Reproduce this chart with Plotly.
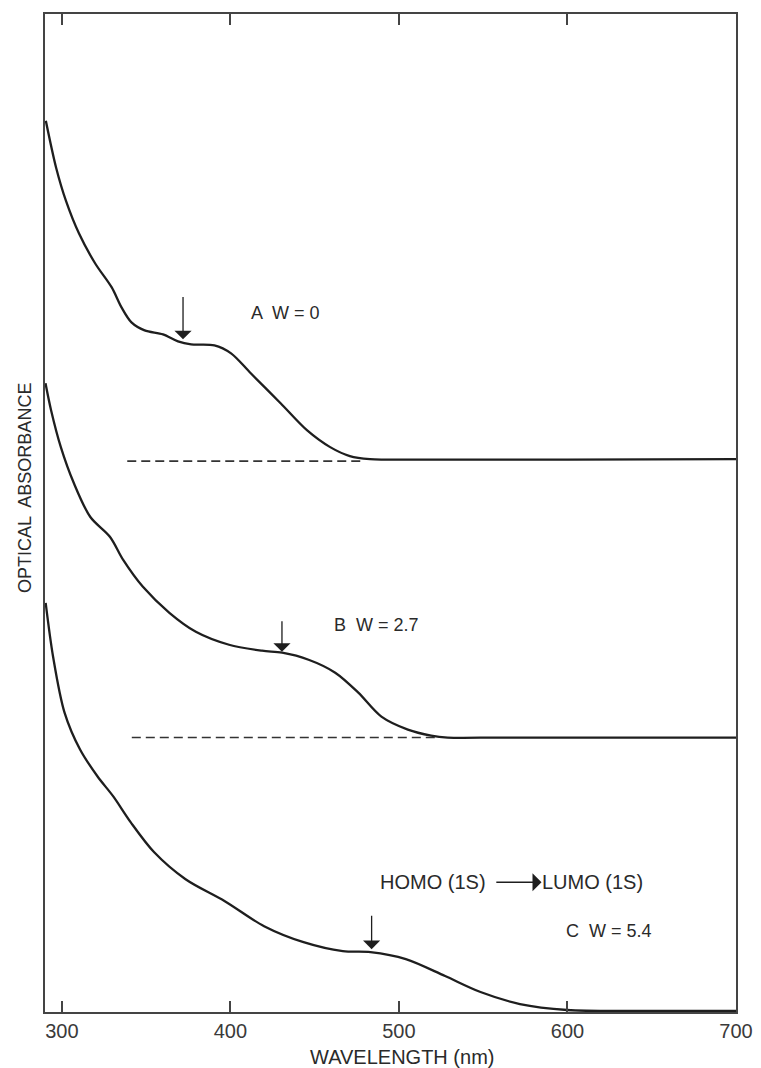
import plotly.graph_objects as go

# ---- data (wavelength in nm, absorbance in arbitrary offset units) ----
wl_A = [290.5, 296.6, 302.4, 310.2, 319.8, 329.6, 335.4, 341.3, 349.1, 360.0, 368.9, 376.7,
        390.5, 400.4, 412.1, 429.8, 445.4, 459.2, 470.9, 482.8, 520.0, 600.0, 700.0]
abs_A = [8.93, 8.46, 8.13, 7.80, 7.50, 7.26, 7.06, 6.91, 6.83, 6.79, 6.72, 6.69,
         6.68, 6.60, 6.40, 6.10, 5.83, 5.66, 5.57, 5.54, 5.535, 5.535, 5.54]

wl_B = [290.3, 293.6, 299.4, 307.1, 316.9, 328.6, 336.4, 348.1, 363.8, 379.5, 399.2, 418.8,
        430.7, 446.4, 462.2, 475.9, 489.6, 505.3, 519.1, 528.9, 560.0, 620.0, 700.0]
abs_B = [6.30, 6.03, 5.66, 5.30, 4.96, 4.76, 4.53, 4.26, 4.00, 3.81, 3.68, 3.62,
         3.60, 3.53, 3.40, 3.20, 2.96, 2.83, 2.77, 2.75, 2.75, 2.75, 2.75]

wl_C = [290.4, 294.8, 301.6, 310.8, 321.2, 330.5, 340.9, 354.8, 373.4, 396.7, 420.0, 443.4,
        466.7, 483.1, 504.1, 527.4, 548.4, 571.8, 599.8, 640.0, 700.0]
abs_C = [4.10, 3.56, 3.00, 2.63, 2.36, 2.16, 1.90, 1.60, 1.33, 1.11, 0.86, 0.70,
         0.61, 0.60, 0.53, 0.36, 0.20, 0.08, 0.02, 0.01, 0.01]

# dashed baselines (start, end wavelength, level)
base_wl_A = [338.8, 478.6]
base_lvl_A = 5.52
base_wl_B = [341.5, 522.6]
base_lvl_B = 2.75

# marker arrows (HOMO->LUMO peak positions)
arrow_wl = [371.9, 430.6, 483.8]
arrow_tip = [6.74, 3.61, 0.63]
arrow_tail = [7.18, 3.93, 0.98]

# curve labels
label_text = ["A  W = 0", "B  W = 2.7", "C  W = 5.4"]
label_wl = [432.4, 486.5, 624.6]
label_y = [7.00, 3.88, 0.81]

trans_left = "HOMO (1S)"
trans_right = "LUMO (1S)"
trans_left_wl = 520.0
trans_right_wl = 615.0
trans_arrow_wl = [556.9, 584.6]
trans_y = 1.30

x_ticks = [300, 400, 500, 600, 700]

INK = "#1e1e1e"
TXT = "#2a2a2a"
FONT = "Liberation Sans"

fig = go.Figure()
for wl, ab in [(wl_A, abs_A), (wl_B, abs_B), (wl_C, abs_C)]:
    fig.add_trace(go.Scatter(x=wl, y=ab, mode="lines",
                             line=dict(color=INK, width=2.3, shape="spline", smoothing=0.9),
                             showlegend=False, hoverinfo="skip"))

for bw, lvl in [(base_wl_A, base_lvl_A), (base_wl_B, base_lvl_B)]:
    fig.add_trace(go.Scatter(x=bw, y=[lvl, lvl], mode="lines",
                             line=dict(color="#333", width=1.6, dash="9px,5px"),
                             showlegend=False, hoverinfo="skip"))

annotations = []
for w, tip, tail in zip(arrow_wl, arrow_tip, arrow_tail):
    annotations.append(dict(x=w, y=tip, ax=w, ay=tail, xref="x", yref="y", axref="x", ayref="y",
                            text="", showarrow=True, arrowhead=1, arrowsize=2.2, arrowwidth=1.3,
                            arrowcolor=INK))
for t, w, yv in zip(label_text, label_wl, label_y):
    annotations.append(dict(x=w, y=yv, xref="x", yref="y", text=t, showarrow=False,
                            font=dict(family=FONT, size=18, color=TXT)))
annotations.append(dict(x=trans_left_wl, y=trans_y, xref="x", yref="y", text=trans_left,
                        showarrow=False, font=dict(family=FONT, size=20, color=TXT)))
annotations.append(dict(x=trans_right_wl, y=trans_y, xref="x", yref="y", text=trans_right,
                        showarrow=False, font=dict(family=FONT, size=20, color=TXT)))
annotations.append(dict(x=trans_arrow_wl[1], y=trans_y, ax=trans_arrow_wl[0], ay=trans_y,
                        xref="x", yref="y", axref="x", ayref="y", text="", showarrow=True,
                        arrowhead=1, arrowsize=2.0, arrowwidth=1.5, arrowcolor=INK))
# axis titles
annotations.append(dict(x=0.517, y=-0.045, xref="paper", yref="paper", text="WAVELENGTH (nm)",
                        showarrow=False, yanchor="middle",
                        font=dict(family=FONT, size=20, color=TXT)))
annotations.append(dict(x=-0.029, y=0.525, xref="paper", yref="paper", text="OPTICAL  ABSORBANCE",
                        showarrow=False, textangle=-90, xanchor="center", yanchor="middle",
                        font=dict(family=FONT, size=18, color=TXT)))

# page body keeps its default 8px margin, so the figure is 8px smaller and margins shifted
fig.update_layout(
    width=753, height=1060,
    margin=dict(l=37, r=25, t=4, b=56),
    paper_bgcolor="white", plot_bgcolor="white",
    annotations=annotations,
    xaxis=dict(range=[290, 700], tickvals=x_ticks, ticktext=[str(v) for v in x_ticks],
               ticks="inside", ticklen=11, tickwidth=1.5, tickcolor="#444",
               showline=True, linecolor="#444", linewidth=1.6, mirror="ticks",
               showgrid=False, zeroline=False,
               tickfont=dict(family=FONT, size=20, color="#3a3a3a")),
    yaxis=dict(range=[0, 10.0], showticklabels=False, ticks="",
               showline=True, linecolor="#444", linewidth=1.6, mirror=True,
               showgrid=False, zeroline=False),
)

fig.write_html("out.html")
